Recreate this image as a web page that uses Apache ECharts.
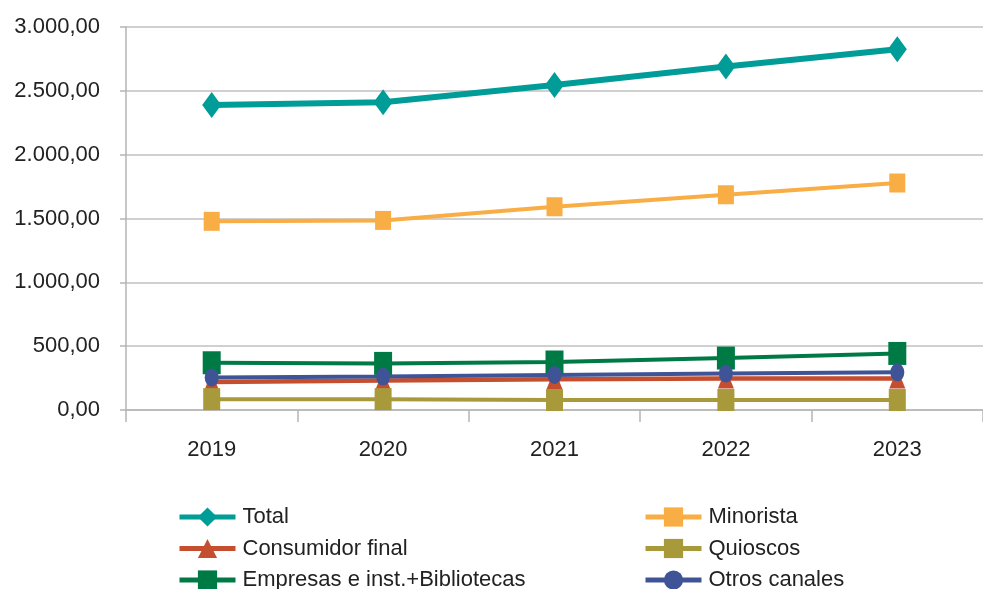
<!DOCTYPE html>
<html>
<head>
<meta charset="utf-8">
<script src="https://cdn.jsdelivr.net/npm/echarts@6/dist/echarts.min.js"></script>
<style>
  html, body { margin: 0; padding: 0; background: #fff; }
  #chart { width: 983px; height: 589px; }
</style>
</head>
<body>
<div id="chart"></div>
<script>
const years = ['2019', '2020', '2021', '2022', '2023'];
const total = [2390, 2410, 2545, 2690, 2825];
const minorista = [1478, 1485, 1592, 1686, 1778];
const consumidor = [220, 231, 241, 246, 246];
const quioscos = [85, 85, 78, 78, 78];
const empresas = [370, 365, 376, 407, 443];
const otros = [254, 262, 275, 285, 295];

const fmt = (v) => {
  const s = Math.round(v).toString().replace(/\B(?=(\d{3})+(?!\d))/g, '.');
  return s + ',00';
};

const mk = (name, data, color, symbol, size, width) => ({
  name,
  type: 'line',
  data,
  symbol,
  symbolSize: size,
  itemStyle: { color },
  lineStyle: { color, width },
  emphasis: { disabled: true },
});

const legendBase = {
  orient: 'vertical',
  top: 505,
  height: 100,
  padding: 0,
  itemWidth: 56,
  itemHeight: 24,
  itemGap: 7.5,
  lineStyle: { width: 5 },
  textStyle: { fontSize: 22, color: '#222', lineHeight: 24, padding: [0, 0, 0, 2] },
};

const chart = echarts.init(document.getElementById('chart'));
chart.setOption({
  animation: false,
  textStyle: { fontFamily: 'Liberation Sans, Arial, sans-serif' },
  grid: { left: 126, right: -8, top: 27, bottom: 179 },
  xAxis: {
    type: 'category',
    data: years,
    boundaryGap: true,
    axisLine: { lineStyle: { color: '#b5b5b5', width: 1.5 } },
    axisTick: { show: true, length: 12, lineStyle: { color: '#b5b5b5', width: 1.5 } },
    axisLabel: { color: '#222', fontSize: 22, margin: 29 },
  },
  yAxis: {
    type: 'value',
    min: 0,
    max: 3000,
    interval: 500,
    axisLine: { show: true, lineStyle: { color: '#b5b5b5', width: 1.5 } },
    axisTick: { show: true, length: 6, lineStyle: { color: '#b5b5b5', width: 1.5 } },
    splitLine: { lineStyle: { color: '#c0c0c0', width: 1.5 } },
    axisLabel: { color: '#222', fontSize: 22, margin: 26, formatter: fmt },
  },
  legend: [
    Object.assign({}, legendBase, {
      left: 177,
      data: ['Total', 'Consumidor final', 'Empresas e inst.+Bibliotecas'],
    }),
    Object.assign({}, legendBase, {
      left: 643,
      data: ['Minorista', 'Quioscos', 'Otros canales'],
    }),
  ],
  series: [
    mk('Total', total, '#009c97', 'diamond', [19, 26], 6),
    mk('Minorista', minorista, '#f9ad45', 'rect', [16, 19], 4),
    mk('Consumidor final', consumidor, '#c54e2f', 'triangle', [16, 20], 4.5),
    mk('Quioscos', quioscos, '#a89a3a', 'rect', [17, 22], 4),
    mk('Empresas e inst.+Bibliotecas', empresas, '#007a45', 'rect', [18, 23], 4),
    mk('Otros canales', otros, '#3e5497', 'circle', [14, 18], 4),
  ],
});
</script>
</body>
</html>
